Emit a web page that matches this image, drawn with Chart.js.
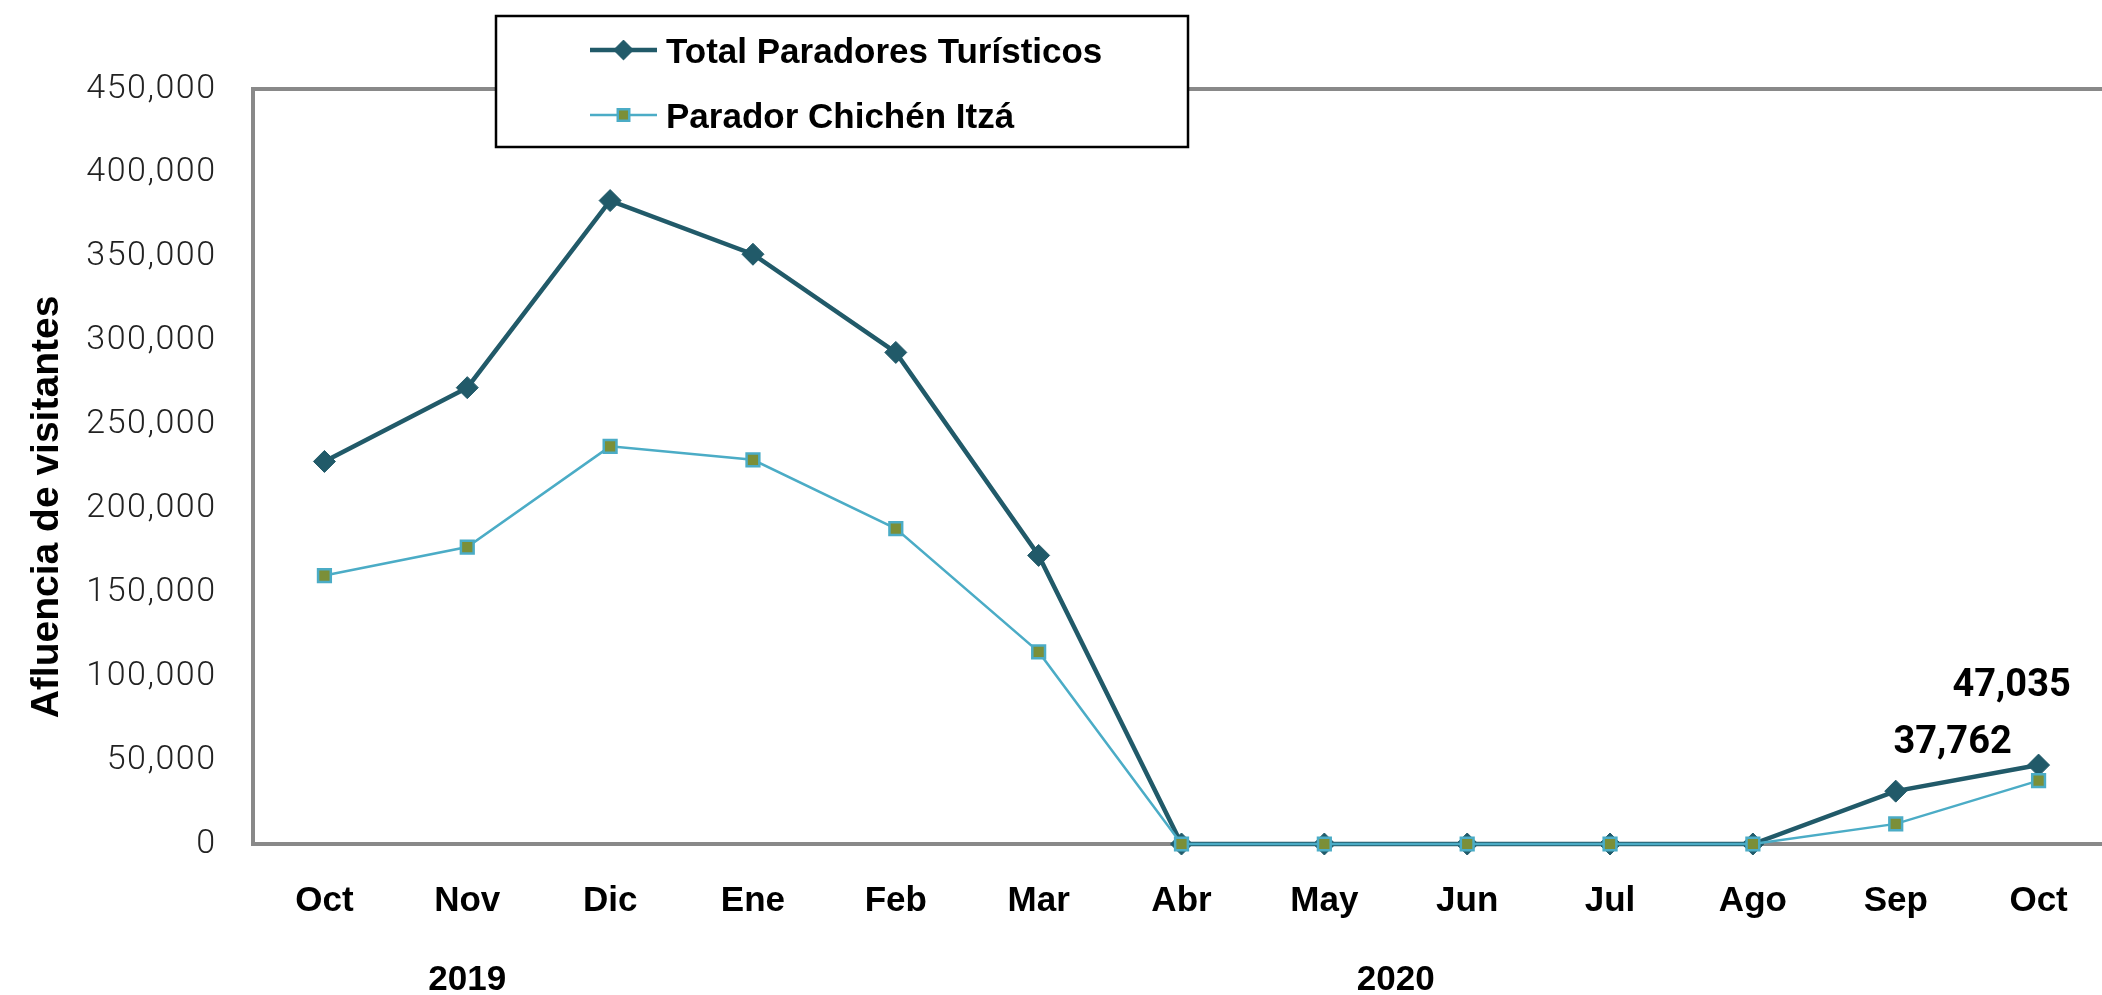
<!DOCTYPE html>
<html><head><meta charset="utf-8">
<script src="https://cdn.jsdelivr.net/npm/chart.js@4.4.0/dist/chart.umd.min.js"></script>
<style>
html,body{margin:0;padding:0;overflow:hidden;background:#fff;width:2102px;height:995px}
#wrap{position:absolute;left:0;top:0;width:2122px;height:995px}
canvas{display:block}
</style></head>
<body><div id="wrap"><canvas id="c" width="2122" height="995"></canvas></div>
<script>
// ---- data ----
const categories = ['Oct','Nov','Dic','Ene','Feb','Mar','Abr','May','Jun','Jul','Ago','Sep','Oct'];
const years = ['2019','2020'];
const yearFirstIndex = [0, 3];
const yearLastIndex = [2, 12];
const totalParadores = [228000, 272000, 383500, 351500, 293000, 172000, 0, 0, 0, 0, 0, 31500, 47035];
const chichenItza = [160000, 177000, 237000, 229000, 188000, 114500, 0, 0, 0, 0, 0, 12000, 37762];
const yTicks = [0, 50000, 100000, 150000, 200000, 250000, 300000, 350000, 400000, 450000];
const seriesNames = ['Total Paradores Turísticos', 'Parador Chichén Itzá'];
const yTitle = 'Afluencia de visitantes';
const labelSeries = [0, 1];
const labelIndex = [12, 12];
const labelText = ['47,035', '37,762'];

// ---- styles ----
const DARK = '#215A69', LIGHT = '#4BACC6', OLIVE = '#7B8F38', AXIS = '#898989';
const BOLDF = "'Liberation Sans',Arial,sans-serif";
const labelOffsets = [[-27, -79], [-86, -37]];

function drawMarker(ctx, style, x, y, r, fill, stroke, bw) {
  ctx.save();
  ctx.beginPath();
  if (style === 'rectRot') {
    ctx.moveTo(x - r, y); ctx.lineTo(x, y - r); ctx.lineTo(x + r, y); ctx.lineTo(x, y + r);
  } else {
    const s = Math.SQRT1_2 * r;
    ctx.rect(x - s, y - s, 2 * s, 2 * s);
  }
  ctx.closePath();
  ctx.fillStyle = fill; ctx.fill();
  ctx.lineWidth = bw; ctx.strokeStyle = stroke; ctx.stroke();
  ctx.restore();
}

const extras = {
  id: 'extras',
  beforeDatasetsDraw(chart) {
    const {ctx, chartArea: a} = chart;
    ctx.save();
    ctx.strokeStyle = AXIS; ctx.lineWidth = 4;
    ctx.strokeRect(a.left, a.top, a.right - a.left, a.bottom - a.top);
    ctx.restore();
  },
  afterDraw(chart) {
    const {ctx} = chart;
    const xs = chart.scales.x;
    ctx.save();
    // year labels
    ctx.fillStyle = '#000';
    ctx.font = "bold 35px " + BOLDF;
    ctx.textAlign = 'center'; ctx.textBaseline = 'middle';
    years.forEach((yr, i) => {
      const x = (xs.getPixelForValue(yearFirstIndex[i]) + xs.getPixelForValue(yearLastIndex[i])) / 2;
      ctx.fillText(yr, x, 980);
    });
    // y title
    ctx.save();
    ctx.translate(47, 507);
    ctx.rotate(-Math.PI / 2);
    ctx.font = "bold 39px " + BOLDF;
    ctx.fillText(yTitle, 0, 0);
    ctx.restore();
    // data labels
    ctx.font = "bold 38px Roboto, sans-serif";
    labelText.forEach((t, i) => {
      const el = chart.getDatasetMeta(labelSeries[i]).data[labelIndex[i]];
      ctx.fillText(t, el.x + labelOffsets[i][0], el.y + labelOffsets[i][1]);
    });
    // legend
    const bx = 496, by = 16, bw = 692, bh = 131;
    ctx.fillStyle = '#fff';
    ctx.fillRect(bx, by, bw, bh);
    ctx.strokeStyle = '#000'; ctx.lineWidth = 2.5;
    ctx.strokeRect(bx, by, bw, bh);
    const rows = [50, 115];
    chart.data.datasets.forEach((ds, i) => {
      const y = rows[i];
      ctx.save();
      ctx.strokeStyle = ds.borderColor; ctx.lineWidth = ds.borderWidth;
      ctx.beginPath(); ctx.moveTo(590, y); ctx.lineTo(657, y); ctx.stroke();
      ctx.restore();
      drawMarker(ctx, ds.pointStyle, 623.5, y, ds.pointRadius * 0.9, ds.pointBackgroundColor, ds.pointBorderColor, ds.pointBorderWidth);
      ctx.fillStyle = '#000';
      ctx.font = "bold 35px " + BOLDF;
      ctx.textAlign = 'left'; ctx.textBaseline = 'middle';
      ctx.fillText(ds.label, 666, y + 3);
    });
    ctx.restore();
  }
};

const tickSpacing = {
  id: 'tickSpacing',
  beforeDraw(chart) {
    const s = chart.scales.y;
    if (s && !s._wrappedLS) {
      const orig = s.drawLabels.bind(s);
      s.drawLabels = function (ca) {
        const c = chart.ctx; c.save(); c.letterSpacing = '1.5px'; orig(ca); c.restore();
      };
      s._wrappedLS = true;
    }
  }
};

new Chart(document.getElementById('c'), {
  type: 'line',
  data: {
    labels: categories,
    datasets: [
      {
        label: seriesNames[0], data: totalParadores, order: 2,
        borderColor: DARK, borderWidth: 4.5, tension: 0, clip: false,
        pointStyle: 'rectRot', pointRadius: 11, pointBackgroundColor: DARK, pointBorderColor: DARK, pointBorderWidth: 1
      },
      {
        label: seriesNames[1], data: chichenItza, order: 1,
        borderColor: LIGHT, borderWidth: 2.5, tension: 0, clip: false,
        pointStyle: 'rect', pointRadius: 9, pointBackgroundColor: OLIVE, pointBorderColor: LIGHT, pointBorderWidth: 2.5
      }
    ]
  },
  options: {
    responsive: false, animation: false, devicePixelRatio: 1,
    layout: {padding: {top: 89, right: 7, left: 0, bottom: 0}},
    plugins: {legend: {display: false}, tooltip: {enabled: false}},
    events: [],
    scales: {
      x: {
        offset: true,
        grid: {display: false, drawTicks: false},
        border: {display: false},
        ticks: {color: '#000', font: {family: BOLDF, weight: 'bold', size: 35}, padding: 36, maxRotation: 0, autoSkip: false},
        afterFit(s) { s.height = 151; }
      },
      y: {
        min: 0, max: 450000,
        grid: {display: false, drawTicks: false},
        border: {display: false},
        afterBuildTicks(s) { s.ticks = yTicks.map(v => ({value: v})); },
        ticks: {color: '#222', font: {family: 'Roboto, sans-serif', weight: 300, size: 34}, padding: 36.5,
          callback: v => v.toLocaleString('en-US')},
        afterFit(s) { s.width = 253; }
      }
    }
  },
  plugins: [extras, tickSpacing]
});
</script>
</body></html>
